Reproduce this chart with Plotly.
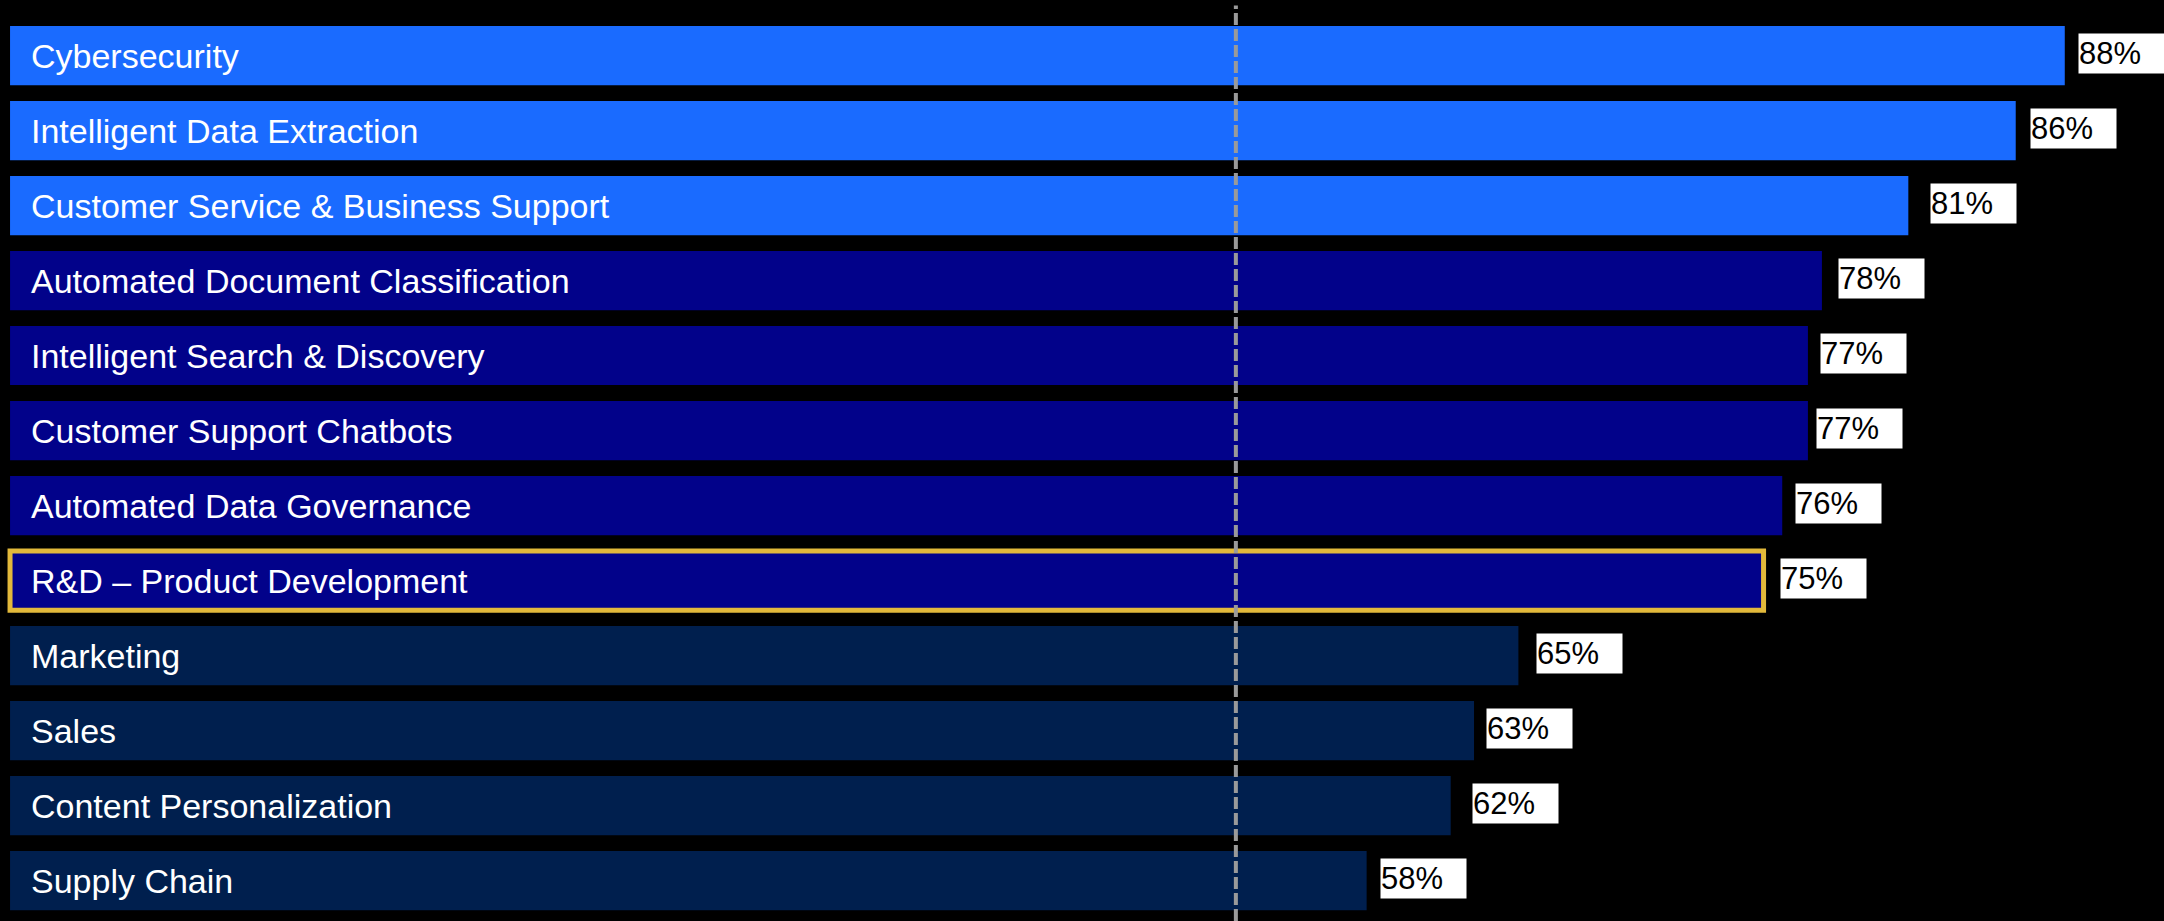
import plotly.graph_objects as go

categories = [
    "Cybersecurity",
    "Intelligent Data Extraction",
    "Customer Service & Business Support",
    "Automated Document Classification",
    "Intelligent Search & Discovery",
    "Customer Support Chatbots",
    "Automated Data Governance",
    "R&D – Product Development",
    "Marketing",
    "Sales",
    "Content Personalization",
    "Supply Chain",
]
values = [88.0, 85.9, 81.3, 77.6, 77.0, 77.0, 75.9, 75.1, 64.6, 62.7, 61.7, 58.1]
value_labels = ["88%", "86%", "81%", "78%", "77%", "77%", "76%", "75%", "65%", "63%", "62%", "58%"]
groups = ["top", "top", "top", "mid", "mid", "mid", "mid", "mid", "low", "low", "low", "low"]
highlight = "R&D – Product Development"
reference_value = 52.5

# styling
group_colors = {"top": "#1A6BFF", "mid": "#02028A", "low": "#001F4E"}
label_gap_px = [13, 14, 22, 16, 12, 8, 13, 16, 18, 12, 21, 13]
bar_colors = [group_colors[g] for g in groups]
line_colors = ["#E2B93B" if c == highlight else "rgba(0,0,0,0)" for c in categories]
line_widths = [5 if c == highlight else 0 for c in categories]

fig = go.Figure()
fig.add_trace(go.Bar(
    x=values,
    y=categories,
    orientation="h",
    marker=dict(color=bar_colors, line=dict(color=line_colors, width=line_widths)),
    hoverinfo="skip",
    showlegend=False,
))

annotations = []
for cat, val, lab, gap in zip(categories, values, value_labels, label_gap_px):
    annotations.append(dict(
        x=0, y=cat, xref="x", yref="y", text=cat, showarrow=False,
        xanchor="left", yanchor="middle", xshift=20, borderpad=0,
        font=dict(family="Liberation Sans, Arial, sans-serif", size=34, color="white"),
    ))
    annotations.append(dict(
        x=val, y=cat, xref="x", yref="y", text=lab, showarrow=False,
        xanchor="left", yanchor="middle", xshift=gap, yshift=2,
        width=85, height=39, align="left", valign="middle",
        bgcolor="white", borderpad=0,
        font=dict(family="Liberation Sans, Arial, sans-serif", size=31, color="black"),
    ))

fig.add_shape(
    type="line", xref="x", yref="paper",
    x0=reference_value, x1=reference_value, y0=0, y1=0.994,
    line=dict(color="#9A9A9A", width=4, dash="12px,4px"),
    layer="above",
)

fig.update_layout(
    width=2164, height=921,
    margin=dict(l=0, r=0, t=0, b=0),
    paper_bgcolor="black", plot_bgcolor="black",
    bargap=0.21,
    annotations=annotations,
    xaxis=dict(range=[-0.43, 92.25], visible=False, showgrid=False, zeroline=False),
    yaxis=dict(range=[11.54, -0.74], visible=False, showgrid=False, zeroline=False,
               type="category", categoryorder="array", categoryarray=categories),
)

fig.write_html(
    "out.html",
    config={"displayModeBar": False},
    post_script="document.body.style.margin='0';document.body.style.padding='0';"
                "document.body.style.background='black';document.body.style.overflow='hidden';",
)
